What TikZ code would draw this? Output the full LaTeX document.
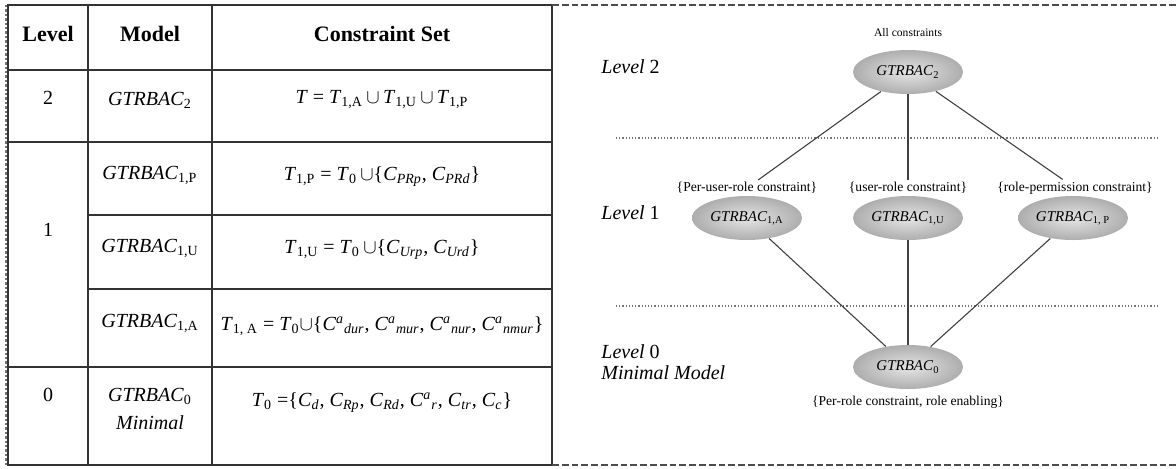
\documentclass[tikz,border=0pt]{standalone}
\usepackage{fontspec}
\setmainfont{Liberation Serif}
\usetikzlibrary{shapes.geometric}

\newcommand{\gtr}[1]{\textit{GTRBAC}\textsubscript{#1}}
\newcommand{\tset}[1]{\textit{T}\textsubscript{#1}}
\newcommand{\cset}[1]{\textit{C}\textsubscript{\textit{#1}}}
\newcommand{\caset}[1]{\textit{C}\textsuperscript{\textit{a}}\textsubscript{\textit{#1}}}

\tikzset{
  tablerule/.style={draw=black!80, line width=1pt},
  framerule/.style={draw=black!70, line width=0.9pt, dash pattern=on 3.4pt off 1.5pt},
  levelsep/.style={draw=black!55, line width=0.6pt, densely dotted},
  link/.style={draw=black!75, line width=0.55pt},
  head/.style={font=\fontsize{11}{13}\selectfont\bfseries, inner sep=1pt},
  cell/.style={font=\fontsize{10}{14}\selectfont, inner sep=1pt, align=center},
  model/.style={ellipse, minimum width=55pt, minimum height=22pt, inner sep=0pt,
                inner color=black!10, outer color=black!32, font=\fontsize{7.5}{9}\selectfont},
  note/.style={font=\fontsize{6.8}{8}\selectfont, inner sep=1pt},
  levelname/.style={font=\fontsize{10}{10.5}\selectfont, inner sep=0pt, anchor=west, align=left}
}

\begin{document}
\begin{tikzpicture}[x=0.5pt, y=-0.5pt]
\useasboundingbox (0,0) rectangle (1176,468);

% table
\draw[tablerule] (8,5) rectangle (552,465);
\draw[black!55, densely dotted, line width=1.2pt] (6,5) -- (6,465);
\draw[tablerule] (88,5) -- (88,465);
\draw[tablerule] (212,5) -- (212,465);
\draw[tablerule] (8,70) -- (552,70);
\draw[tablerule] (8,142) -- (552,142);
\draw[tablerule] (88,215) -- (552,215);
\draw[tablerule] (88,289) -- (552,289);
\draw[tablerule] (8,367) -- (552,367);

\node[head] (hlevel) at (48,34) {Level};
\node[head] (hmodel) at (150,34) {Model};
\node[head] (hset) at (382,34) {Constraint Set};

\node[cell] (lev2) at (48,98) {2};
\node[cell] (mod2) at (150,100) {\gtr{2}};
\node[cell] (set2) at (382,100) {\textit{T} = \tset{1,A}\,$\cup$\,\tset{1,U}\,$\cup$\,\tset{1,P}};

\node[cell] (lev1) at (48,230) {1};
\node[cell] (mod1p) at (150,175) {\gtr{1,P}};
\node[cell] (set1p) at (382,177) {\tset{1,P} = \tset{0}\,$\cup$\{\cset{PRp}, \cset{PRd}\}};
\node[cell] (mod1u) at (150,248) {\gtr{1,U}};
\node[cell] (set1u) at (382,250) {\tset{1,U} = \tset{0}\,$\cup$\{\cset{Urp}, \cset{Urd}\}};
\node[cell] (mod1a) at (150,323) {\gtr{1,A}};
\node[cell] (set1a) at (382,326) {\tset{1, A} = \tset{0}$\cup$\{\caset{dur}, \caset{mur}, \caset{nur}, \caset{nmur}\}};

\node[cell] (lev0) at (48,395) {0};
\node[cell] (mod0) at (150,409) {\gtr{0}\\\textit{Minimal}};
\node[cell] (set0) at (382,403) {\tset{0} =\{\cset{d}, \cset{Rp}, \cset{Rd}, \caset{r}, \cset{tr}, \cset{c}\}};

% hierarchy
\draw[framerule] (552,5) -- (1176,5);
\draw[framerule] (552,465) -- (1176,465);
\draw[levelsep] (616,138) -- (1158,138);
\draw[levelsep] (616,306) -- (1158,306);

\node[levelname] (lv2) at (601,67) {\textit{Level} 2};
\node[levelname] (lv1) at (601,213) {\textit{Level} 1};
\node[levelname] (lv0) at (601,362) {\textit{Level} 0\\\textit{Minimal Model}};

\node[model] (g2) at (908,72) {\gtr{2}};
\node[note, font=\fontsize{5.8}{7}\selectfont] (nall) at (908,33) {All constraints};

\node[model] (g1a) at (747,218) {\gtr{1,A}};
\node[model] (g1u) at (908,218) {\gtr{1,U}};
\node[model] (g1p) at (1073,218) {\gtr{1, P}};
\node[note] (n1a) at (747,188) {\{Per-user-role constraint\}};
\node[note] (n1u) at (908,188) {\{user-role constraint\}};
\node[note] (n1p) at (1075,188) {\{role-permission constraint\}};

\node[model] (g0) at (908,367) {\gtr{0}};
\node[note] (n0) at (908,402) {\{Per-role constraint, role enabling\}};

\draw[link] (g2) -- (n1a);
\draw[link] (g2) -- (n1u);
\draw[link] (g2) -- (n1p);
\draw[link] (g1a) -- (g0);
\draw[link] (g1u) -- (g0);
\draw[link] (g1p) -- (g0);

\end{tikzpicture}
\end{document}
